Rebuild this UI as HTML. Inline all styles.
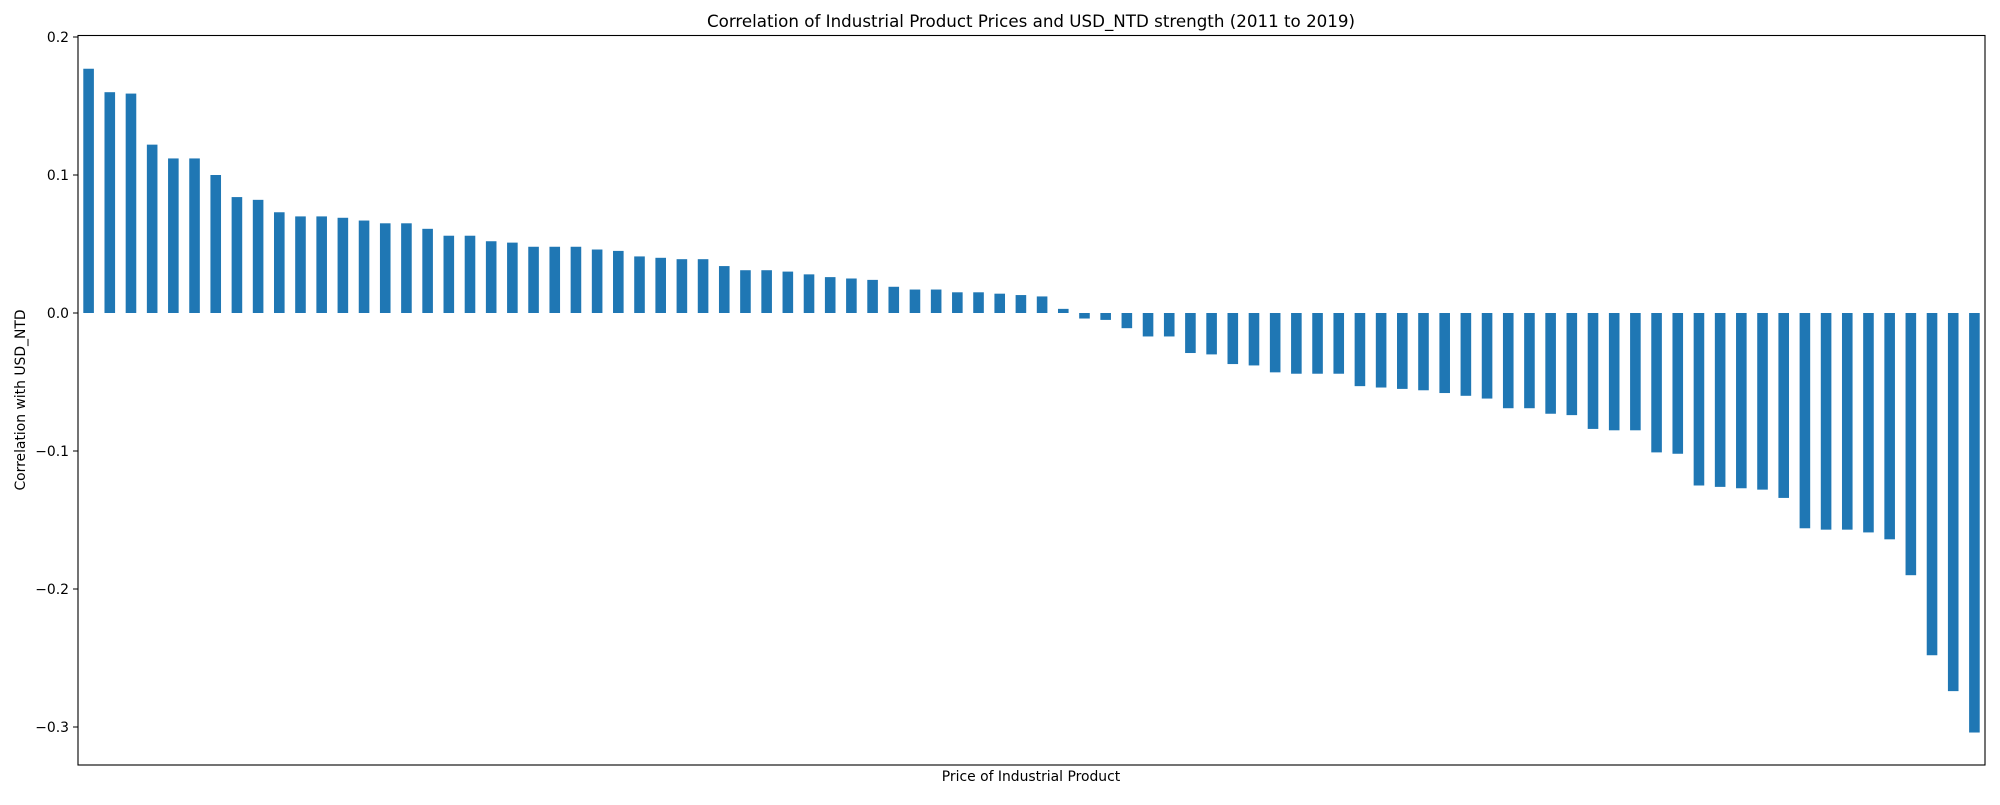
<!DOCTYPE html>
<html><head><meta charset="utf-8"><style>
html,body{margin:0;padding:0;background:#fff;}
svg text{font-family:"DejaVu Sans","Liberation Sans",sans-serif;fill:#000;}
</style></head><body>
<svg id="chart" width="2000" height="800" viewBox="0 0 2000 800" xmlns="http://www.w3.org/2000/svg">
<rect width="2000" height="800" fill="#fff"/>
<text x="1031" y="27" text-anchor="middle" font-size="16.7">Correlation of Industrial Product Prices and USD_NTD strength (2011 to 2019)</text>
<text x="1031" y="781" text-anchor="middle" font-size="13.9">Price of Industrial Product</text>
<text transform="translate(25,400) rotate(-90)" text-anchor="middle" font-size="13.9">Correlation with USD_NTD</text>
<g id="bars"></g>
<g id="yticks"></g>
<rect x="78" y="35.5" width="1907" height="729.5" fill="none" stroke="#000" stroke-width="1.1"/>
</svg>
<script>
const values = [0.177,0.160,0.159,0.122,0.112,0.112,0.100,0.084,0.082,0.073,0.070,0.070,0.069,0.067,0.065,0.065,0.061,0.056,0.056,0.052,0.051,0.048,0.048,0.048,0.046,0.045,0.041,0.040,0.039,0.039,0.034,0.031,0.031,0.030,0.028,0.026,0.025,0.024,0.019,0.017,0.017,0.015,0.015,0.014,0.013,0.012,0.003,
-0.004,-0.005,-0.011,-0.017,-0.017,-0.029,-0.030,-0.037,-0.038,-0.043,-0.044,-0.044,-0.044,-0.053,-0.054,-0.055,-0.056,-0.058,-0.060,-0.062,-0.069,-0.069,-0.073,-0.074,-0.084,-0.085,-0.085,-0.101,-0.102,-0.125,-0.126,-0.127,-0.128,-0.134,-0.156,-0.157,-0.157,-0.159,-0.164,-0.190,-0.248,-0.274,-0.304];
const yTicks = [0.2,0.1,0.0,-0.1,-0.2,-0.3];
const yTickLabels = ["0.2","0.1","0.0","\u22120.1","\u22120.2","\u22120.3"];

const NS="http://www.w3.org/2000/svg";
const plotLeft=78,plotRight=1985,plotBottom=765;
const yScale=v=>313-v*1380;
const step=(plotRight-plotLeft)/values.length;
const xScale=i=>plotLeft+step*(i+0.5);
const bars=document.getElementById('bars');
values.forEach((v,i)=>{
  const r=document.createElementNS(NS,'rect');
  
  
  const y0=yScale(0),y1=yScale(v);
  r.setAttribute('x',xScale(i)-step*0.25);
  r.setAttribute('width',step*0.5);
  r.setAttribute('y',Math.min(y0,y1));
  r.setAttribute('height',Math.abs(y1-y0));
  r.setAttribute('fill','#1f77b4');
  bars.appendChild(r);
});
const yt=document.getElementById('yticks');
yTicks.forEach((t,i)=>{
  const y=yScale(t);
  const l=document.createElementNS(NS,'line');
  
  
  l.setAttribute('x1',plotLeft-5);l.setAttribute('x2',plotLeft);
  l.setAttribute('y1',y);l.setAttribute('y2',y);
  l.setAttribute('stroke','#000');
  yt.appendChild(l);
  const tx=document.createElementNS(NS,'text');
  
  
  tx.setAttribute('x',plotLeft-9);tx.setAttribute('y',y+5);
  tx.setAttribute('text-anchor','end');tx.setAttribute('font-size','13.9');
  tx.textContent=yTickLabels[i];
  yt.appendChild(tx);
});
</script>
</body></html>
